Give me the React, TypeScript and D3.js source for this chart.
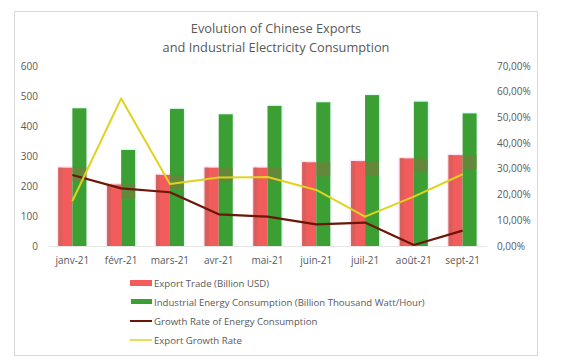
import React from "react";
import * as d3 from "d3";

const categories = ["janv-21", "févr-21", "mars-21", "avr-21", "mai-21", "juin-21", "juil-21", "août-21", "sept-21"];
const exportTrade = [261, 205, 237, 261, 261, 279, 283, 292, 303];
const energyConsumption = [459, 320, 457, 439, 467, 479, 503, 481, 442];
const energyGrowth = [27.6, 22.4, 20.9, 12.3, 11.4, 8.4, 9.1, 0.4, 6.0];
const exportGrowth = [17.5, 57.4, 24.1, 26.6, 26.8, 21.8, 11.4, 19.2, 27.9];
const leftTicks = [0, 100, 200, 300, 400, 500, 600];
const rightTicks = [0, 10, 20, 30, 40, 50, 60, 70];
const titleLines = ["Evolution of Chinese Exports", "and Industrial Electricity Consumption"];
const legendLabels = [
  "Export Trade (Billion USD)",
  "Industrial Energy Consumption (Billion Thousand Watt/Hour)",
  "Growth Rate of Energy Consumption",
  "Export Growth Rate",
];

const W = 563;
const H = 360;
const FONT = "'Open Sans', sans-serif";
const TXT = "#595959";
const RED = "#f25c5c";
const GREEN = "#3b9f33";
const DARK = "#6a1707";
const YELLOW = "#e0d21e";

export default function App() {
  const x = d3.scaleBand<string>().domain(categories).range([48, 487]);
  const yL = d3.scaleLinear().domain([0, 600]).range([246, 66]);
  const yR = d3.scaleLinear().domain([0, 70]).range([246, 66]);
  const bw = 14;
  const cx = (c: string) => (x(c) as number) + x.bandwidth() / 2;

  const line = (vals: number[]) =>
    d3.line<number>().x((_, i) => cx(categories[i])).y((v) => yR(v))(vals) as string;

  const fmtPct = (v: number) => v.toFixed(2).replace(".", ",") + "%";

  return (
    <svg width={W} height={H} style={{ position: "absolute", left: 0, top: 0, background: "#fff" }}>
      <rect x={14.5} y={11.5} width={523} height={344} fill="#fff" stroke="#d9d9d9" strokeWidth={1} />
      {titleLines.map((t, i) => (
        <text key={t} x={276} y={33 + i * 19} textAnchor="middle" fontFamily={FONT} fontSize={12.8} fill={TXT}>
          {t}
        </text>
      ))}
      {leftTicks.map((t) => (
        <text key={"l" + t} x={38} y={yL(t) + 3.5} textAnchor="end" fontFamily={FONT} fontSize={10} fill={TXT}>
          {t}
        </text>
      ))}
      {rightTicks.map((t) => (
        <text key={"r" + t} x={497} y={yR(t) + 3.5} textAnchor="start" fontFamily={FONT} fontSize={10} fill={TXT}>
          {fmtPct(t)}
        </text>
      ))}
      {categories.map((c, i) => (
        <g key={c}>
          <rect x={cx(c) - bw - 1.5} y={yL(exportTrade[i]) - 1.5} width={bw + 1.5} height={yL(0) - yL(exportTrade[i]) + 1.5} fill="#fde3f3" />
          <rect x={cx(c)} y={yL(energyConsumption[i]) - 1.5} width={bw + 1.5} height={yL(0) - yL(energyConsumption[i]) + 1.5} fill="#e3fbf6" />
          <rect x={cx(c) - bw} y={yL(exportTrade[i])} width={bw} height={yL(0) - yL(exportTrade[i])} fill={RED} />
          <rect x={cx(c) - bw} y={yL(exportTrade[i])} width={4} height={yL(0) - yL(exportTrade[i])} fill="#d8605c" />
          <rect x={cx(c)} y={yL(energyConsumption[i])} width={bw} height={yL(0) - yL(energyConsumption[i])} fill={GREEN} />
          <rect x={cx(c)} y={yL(exportTrade[i])} width={bw} height={14} fill="#7f7a3e" opacity={0.6} />
          <text x={cx(c)} y={264} textAnchor="middle" fontFamily={FONT} fontSize={10} fill={TXT}>
            {c}
          </text>
        </g>
      ))}
      <line x1={48} x2={487} y1={246.5} y2={246.5} stroke="#e6e6e6" strokeWidth={1} />
      <path d={line(energyGrowth)} fill="none" stroke={DARK} strokeWidth={2.2} strokeLinejoin="round" />
      <path d={line(exportGrowth)} fill="none" stroke={YELLOW} strokeWidth={2} strokeLinejoin="round" />
      {legendLabels.map((l, i) => {
        const y = 283 + i * 19;
        return (
          <g key={l}>
            {i === 0 && <rect x={130} y={y - 3} width={22} height={6} fill={RED} />}
            {i === 1 && <rect x={131} y={y - 3} width={21} height={5} fill={GREEN} />}
            {i === 2 && <line x1={130} x2={152} y1={y} y2={y} stroke={DARK} strokeWidth={2} />}
            {i === 3 && <line x1={130} x2={152} y1={y} y2={y} stroke={YELLOW} strokeWidth={1.5} />}
            <text x={154} y={y + 3.5} fontFamily={FONT} fontSize={9.6} fill={TXT}>
              {l}
            </text>
          </g>
        );
      })}
    </svg>
  );
}
